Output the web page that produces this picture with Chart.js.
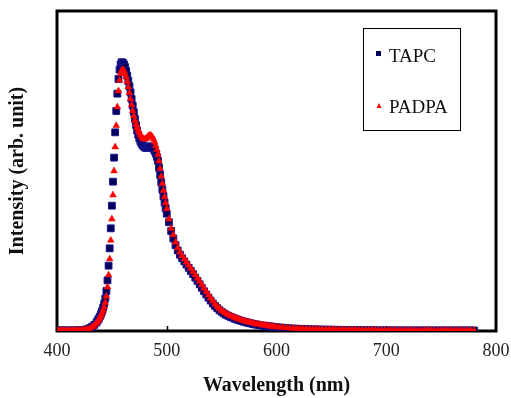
<!DOCTYPE html>
<html>
<head>
<meta charset="utf-8">
<script src="https://cdn.jsdelivr.net/npm/chart.js@4.4.1/dist/chart.umd.min.js"></script>
<style>
  html, body { margin: 0; padding: 0; background: #fff; }
  #wrap { width: 511px; height: 398px; }
</style>
</head>
<body>
<div id="wrap"><canvas id="canvas" width="511" height="398"></canvas></div>
<script>
'use strict';

// Wavelength (nm), 2 nm in the baseline, 1 nm over the peak, then coarser in the tail
const wavelength = [
  400, 402, 404, 406, 408, 410, 412, 414, 416, 418, 420, 422, 424, 426, 428, 430, 432, 434, 436,
  437, 438, 439, 440, 441, 442, 443, 444, 445, 446,
  447, 448, 449, 450, 451, 452, 453, 454, 455, 456,
  457, 458, 459, 460, 461, 462, 463, 464, 465, 466,
  467, 468, 469, 470, 471, 472, 473, 474, 475, 476,
  477, 478, 479, 480, 481, 482, 483, 484, 485, 486,
  487, 488, 489, 490, 491, 492, 493, 494, 495, 496,
  497, 498, 499, 500,
  502, 504, 506, 508, 510, 512, 514, 516, 518, 520,
  522, 524, 526, 528, 530, 532, 534, 536, 538, 540,
  542, 544, 546, 548, 550, 552, 554, 556, 558, 560,
  562, 564, 566, 568, 570, 572, 574, 576, 578, 580,
  582, 584, 586, 588, 590, 592, 594, 596, 598, 600,
  603, 606, 609, 612, 615, 618, 621, 624, 627, 630,
  633, 636, 639, 642, 645, 648, 651, 654, 657, 660,
  663, 666, 669, 672, 675, 678, 681, 684, 687, 690,
  693, 696, 699, 702, 705, 708, 711, 714, 717, 720,
  723, 726, 729, 732, 735, 738, 741, 744, 747, 750,
  753, 756, 759, 762, 765, 768, 771, 774, 777, 780
];

const tapc = [
  0.002, 0.002, 0.002, 0.002, 0.002, 0.002, 0.002, 0.002, 0.002, 0.002, 0.003, 0.003, 0.004, 0.005, 0.007, 0.011, 0.016, 0.023, 0.032,
  0.039, 0.046, 0.054, 0.063, 0.074, 0.087, 0.102, 0.122, 0.15, 0.19,
  0.245, 0.31, 0.385, 0.47, 0.56, 0.65, 0.745, 0.825, 0.89, 0.945,
  0.98, 1.0, 1.008, 1.006, 1.0, 0.99, 0.975, 0.958, 0.938, 0.918,
  0.895, 0.87, 0.845, 0.82, 0.795, 0.772, 0.752, 0.736, 0.722, 0.711,
  0.703, 0.697, 0.692, 0.689, 0.687, 0.687, 0.689, 0.691, 0.692, 0.692,
  0.689, 0.683, 0.675, 0.665, 0.653, 0.638, 0.612, 0.585, 0.557, 0.53,
  0.505, 0.482, 0.46, 0.44,
  0.408, 0.375, 0.347, 0.322, 0.302, 0.286, 0.273, 0.261, 0.249, 0.237,
  0.225, 0.213, 0.2, 0.188, 0.175, 0.162, 0.149, 0.137, 0.125, 0.114,
  0.103, 0.094, 0.086, 0.078, 0.072, 0.066, 0.061, 0.057, 0.053, 0.05,
  0.046, 0.043, 0.04, 0.038, 0.035, 0.033, 0.031, 0.029, 0.027, 0.025,
  0.024, 0.022, 0.021, 0.02, 0.019, 0.018, 0.017, 0.016, 0.015, 0.014,
  0.013, 0.012, 0.011, 0.01, 0.009, 0.0085, 0.008, 0.0075, 0.007, 0.0065,
  0.006, 0.0058, 0.0055, 0.0052, 0.005, 0.0048, 0.0046, 0.0044, 0.0042, 0.004,
  0.0038, 0.0036, 0.0034, 0.0032, 0.003, 0.0029, 0.0028, 0.0027, 0.0026, 0.0025,
  0.0024, 0.0024, 0.0023, 0.0023, 0.0022, 0.0022, 0.0021, 0.0021, 0.002, 0.002,
  0.002, 0.002, 0.002, 0.002, 0.002, 0.002, 0.002, 0.002, 0.002, 0.002,
  0.002, 0.002, 0.002, 0.002, 0.002, 0.002, 0.002, 0.002, 0.002, 0.002
];

const padpa = [
  0.002, 0.002, 0.002, 0.002, 0.002, 0.002, 0.002, 0.002, 0.002, 0.002, 0.003, 0.003, 0.004, 0.005, 0.007, 0.01, 0.015, 0.021, 0.03,
  0.036, 0.042, 0.049, 0.057, 0.066, 0.077, 0.09, 0.107, 0.13, 0.165,
  0.21, 0.27, 0.34, 0.42, 0.51, 0.6, 0.69, 0.77, 0.84, 0.9,
  0.94, 0.965, 0.978, 0.98, 0.976, 0.965, 0.952, 0.935, 0.915, 0.893,
  0.87, 0.848, 0.826, 0.806, 0.789, 0.775, 0.763, 0.753, 0.744, 0.736,
  0.729, 0.724, 0.72, 0.719, 0.721, 0.725, 0.73, 0.733, 0.734, 0.732,
  0.727, 0.719, 0.708, 0.695, 0.68, 0.662, 0.637, 0.609, 0.58, 0.553,
  0.527, 0.503, 0.48, 0.458,
  0.42, 0.385, 0.36, 0.333, 0.311, 0.295, 0.282, 0.27, 0.258, 0.246,
  0.234, 0.222, 0.21, 0.198, 0.186, 0.173, 0.16, 0.147, 0.135, 0.123,
  0.112, 0.101, 0.092, 0.084, 0.077, 0.071, 0.066, 0.061, 0.057, 0.054,
  0.05, 0.047, 0.044, 0.041, 0.039, 0.036, 0.034, 0.032, 0.03, 0.028,
  0.026, 0.025, 0.023, 0.022, 0.021, 0.02, 0.018, 0.017, 0.016, 0.015,
  0.014, 0.013, 0.012, 0.011, 0.01, 0.0095, 0.009, 0.0085, 0.008, 0.0075,
  0.007, 0.0068, 0.0065, 0.0062, 0.006, 0.0058, 0.0056, 0.0054, 0.0052, 0.005,
  0.0048, 0.0046, 0.0044, 0.0042, 0.004, 0.0038, 0.0036, 0.0034, 0.0032, 0.003,
  0.0029, 0.0028, 0.0027, 0.0026, 0.0025, 0.0025, 0.0024, 0.0024, 0.0023, 0.0023,
  0.0022, 0.0022, 0.0022, 0.0021, 0.0021, 0.0021, 0.002, 0.002, 0.002, 0.002,
  0.002, 0.002, 0.002, 0.002, 0.002, 0.002, 0.002, 0.002, 0.002, 0.002
];

const xTicks = [400, 500, 600, 700, 800];
const seriesNames = ['TAPC', 'PADPA'];

const serif = "'Liberation Serif', 'Times New Roman', serif";
const navy = '#00005c';
const red = '#ff0000';

const toPoints = values => wavelength.map((w, i) => ({ x: w, y: values[i] }));

// box around the plot and short inward ticks on the x axis
const framePlugin = {
  id: 'frame',
  beforeDatasetsDraw(chart) {
    const { ctx, chartArea: a, scales } = chart;
    ctx.save();
    ctx.strokeStyle = '#000';
    ctx.lineWidth = 1.5;
    xTicks.slice(1, -1).forEach(t => {
      const px = Math.round(scales.x.getPixelForValue(t)) + 0.5;
      ctx.beginPath();
      ctx.moveTo(px, a.bottom);
      ctx.lineTo(px, a.bottom - 5);
      ctx.stroke();
    });
    ctx.lineWidth = 3;
    ctx.strokeRect(a.left, a.top, a.right - a.left, a.bottom - a.top);
    ctx.restore();
  }
};

// legend box sitting inside the plot
const legendPlugin = {
  id: 'boxLegend',
  afterDatasetsDraw(chart) {
    const { ctx, chartArea: a } = chart;
    const bx = a.left + 306, by = a.top + 17;
    ctx.save();
    ctx.fillStyle = '#fff';
    ctx.fillRect(bx, by, 97, 102);
    ctx.strokeStyle = '#000';
    ctx.lineWidth = 1;
    ctx.strokeRect(bx + 0.5, by + 0.5, 97, 102);

    ctx.fillStyle = navy;
    ctx.fillRect(bx + 13, by + 23, 5, 5);
    ctx.fillStyle = red;
    ctx.beginPath();
    ctx.moveTo(bx + 16, by + 75);
    ctx.lineTo(bx + 18.5, by + 80);
    ctx.lineTo(bx + 13.5, by + 80);
    ctx.closePath();
    ctx.fill();

    ctx.fillStyle = '#111';
    ctx.font = `19px ${serif}`;
    ctx.textBaseline = 'middle';
    ctx.fillText(seriesNames[0], bx + 26, by + 29);
    ctx.fillText(seriesNames[1], bx + 26, by + 80);
    ctx.restore();
  }
};

const chart = new Chart(document.getElementById('canvas').getContext('2d'), {
  type: 'line',
  data: {
    datasets: [
      {
        label: seriesNames[0],
        data: toPoints(tapc),
        showLine: false,
        pointStyle: 'rect',
        pointRadius: 4.8,
        pointBorderWidth: 1,
        pointBackgroundColor: navy,
        pointBorderColor: '#14148c',
        order: 2
      },
      {
        label: seriesNames[1],
        data: toPoints(padpa),
        showLine: false,
        pointStyle: 'triangle',
        pointRadius: 3.9,
        pointBorderWidth: 0.5,
        pointBackgroundColor: red,
        pointBorderColor: red,
        order: 1
      }
    ]
  },
  options: {
    responsive: false,
    animation: false,
    events: [],
    layout: { padding: { top: 11, right: 15, left: 0, bottom: 0 } },
    plugins: {
      legend: { display: false },
      tooltip: { enabled: false }
    },
    scales: {
      x: {
        type: 'linear',
        min: 400,
        max: 800,
        afterFit: scale => {
          scale.height = 67;
          scale.paddingLeft = 0;
          scale.paddingRight = 0;
        },
        afterBuildTicks: scale => { scale.ticks = xTicks.map(v => ({ value: v })); },
        grid: { display: false, drawTicks: false },
        border: { display: false },
        ticks: {
          padding: 9,
          color: '#222',
          font: { family: serif, size: 18 },
          maxRotation: 0
        },
        title: {
          display: true,
          text: 'Wavelength (nm)',
          color: '#111',
          font: { family: serif, size: 20, weight: 'bold' },
          padding: { top: 0, bottom: 0 }
        }
      },
      y: {
        min: 0,
        max: 1.2,
        afterFit: scale => { scale.width = 57; },
        grid: { display: false, drawTicks: false },
        border: { display: false },
        ticks: { display: false },
        title: {
          display: true,
          text: 'Intensity (arb. unit)',
          color: '#111',
          font: { family: serif, size: 20, weight: 'bold' },
          padding: { top: 6, bottom: 0 }
        }
      }
    }
  },
  plugins: [framePlugin, legendPlugin]
});
</script>
</body>
</html>
